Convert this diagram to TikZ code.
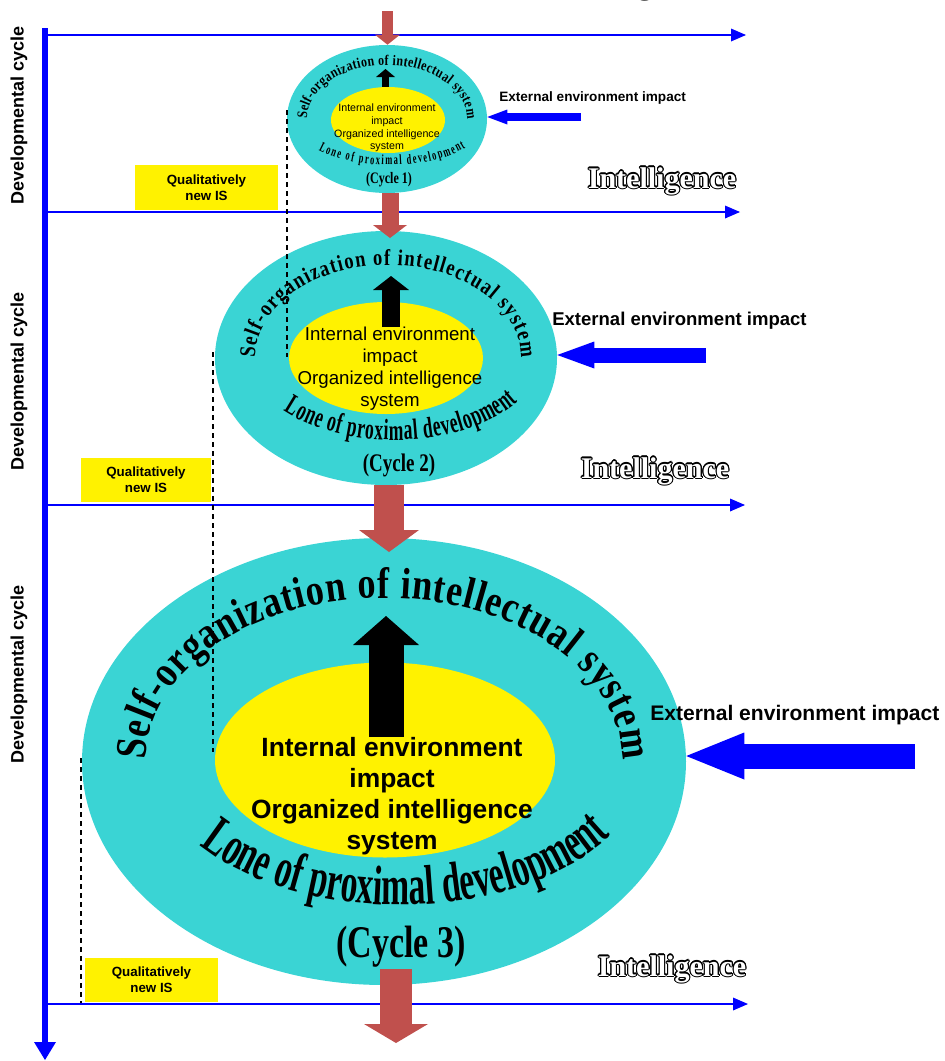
\documentclass[tikz,border=0pt]{standalone}
\usepackage{fontspec}
\setmainfont{Liberation Serif}
\setsansfont{Liberation Sans}
\newfontfamily\toparc{Liberation Serif}[FakeStretch=0.82]
\newfontfamily\lowarc{Liberation Serif}[FakeStretch=0.6]
\newfontfamily\cyclefont{Liberation Serif}[FakeStretch=0.75]
\usepackage{contour}
\contourlength{0.8pt}
\usetikzlibrary{shapes.geometric, arrows.meta, decorations.text, calc}
\definecolor{ringcyan}{RGB}{58,212,212}
\definecolor{arrowred}{RGB}{192,80,77}

\begin{document}
\begin{tikzpicture}[x=0.75pt, y=-0.75pt,
  ring/.style={ellipse, fill=ringcyan, inner sep=0pt},
  yolk/.style={ellipse, fill=yellow, inner sep=0pt},
  inner/.style={align=center, inner sep=0pt},
  devlabel/.style={rotate=90, font=\sffamily\bfseries\fontsize{13.5}{16}\selectfont},
  qbox/.style={fill=yellow, align=center, inner sep=0pt, font=\sffamily\bfseries\fontsize{10}{12}\selectfont},
  intel/.style={anchor=base, text=white, inner sep=0pt, font=\bfseries\fontsize{22.5}{22.5}\selectfont},
  extlabel/.style={anchor=base west, inner sep=0pt},
  blueaxis/.style={draw=blue, line width=1.9pt, -{Triangle[width=9.75pt, length=11.25pt, line width=0pt]}},
  stair/.style={draw=black, line width=0.9pt, dash pattern=on 3.75pt off 3pt},
  redblock/.style n args={3}{draw=arrowred, line width=#1, -{Triangle[width=#2, length=#3, line width=0pt]}},
  blackblock/.style n args={3}{draw=black, line width=#1, -{Triangle[width=#2, length=#3, line width=0pt]}},
  blueblock/.style n args={3}{draw=blue, line width=#1, -{Triangle[width=#2, length=#3, line width=0pt]}},
  toptext/.style={decorate, decoration={text along path, text align={fit to path},
    text={|\toparc\bfseries\fontsize{#1}{#1}\selectfont|Self-organization of intellectual system}}},
  lowtext/.style={decorate, decoration={text along path, text align={fit to path},
    text={|\lowarc\bfseries\fontsize{#1}{#1}\selectfont|Lone of proximal development}}}
]
\useasboundingbox (0,0) rectangle (945,1061);

% cycle 1
\node[ring, minimum width=150pt, minimum height=111pt] (ring1) at (387,119) {};
\node[yolk, minimum width=85.5pt, minimum height=49.5pt] (yolk1) at (388,120) {};
\node[inner, font=\sffamily\fontsize{8}{9.4}\selectfont] (txt1) at (387,128) {Internal environment\\impact\\Organized intelligence\\system};
\coordinate (up1) at (385.5,69);
\draw[blackblock={5.25pt}{14.25pt}{6pt}] (yolk1.north -| up1) -- (up1);
\path[toptext=11] (307,119) arc[start angle=180, end angle=360, x radius=80, y radius=54];
\path[lowtext=10.5] ($(390,120)+(138:96 and 45)$) arc[start angle=138, end angle=38, x radius=96, y radius=45];
\node[font=\cyclefont\bfseries\fontsize{12}{12}\selectfont] (cyc1) at (389,180) {(Cycle 1)};

% cycle 2
\node[ring, minimum width=256.5pt, minimum height=190.5pt] (ring2) at (386,358) {};
\node[yolk, minimum width=145.5pt, minimum height=84pt] (yolk2) at (386,358) {};
\node[inner, font=\sffamily\fontsize{14}{16.5}\selectfont] (txt2) at (390,369) {Internal environment\\impact\\Organized intelligence\\system};
\coordinate (up2) at (391,276);
\draw[blackblock={13.5pt}{27pt}{10.5pt}] (txt2.north -| up2) -- (up2);
\path[toptext=17] (255,358) arc[start angle=180, end angle=360, x radius=133, y radius=93];
\path[lowtext=22] ($(395,358)+(140:145 and 82)$) arc[start angle=140, end angle=32, x radius=145, y radius=82];
\node[font=\cyclefont\bfseries\fontsize{19}{19}\selectfont] (cyc2) at (399,465) {(Cycle 2)};

% cycle 3
\node[ring, minimum width=453pt, minimum height=335.25pt] (ring3) at (384,761.5) {};
\node[yolk, minimum width=255pt, minimum height=146.25pt] (yolk3) at (385,760) {};
\node[inner, font=\sffamily\bfseries\fontsize{19.8}{23.25}\selectfont] (txt3) at (392,796) {Internal environment\\impact\\Organized intelligence\\system};
\coordinate (up3) at (386,616);
\draw[blackblock={26.25pt}{49.5pt}{21.75pt}] (txt3.north -| up3) -- (up3);
\path[toptext=33] (146,760) arc[start angle=180, end angle=360, x radius=238, y radius=162];
\path[lowtext=42] ($(400,760)+(144:247 and 145)$) arc[start angle=144, end angle=32, x radius=247, y radius=145];
\node[font=\cyclefont\bfseries\fontsize{34}{34}\selectfont] (cyc3) at (401,947) {(Cycle 3)};

% axes
\draw[blueaxis, line width=4pt, -{Triangle[width=16.5pt, length=13.5pt, line width=0pt]}] (45,28) -- (45,1060);
\foreach \y/\e in {35/746, 212/740, 505/745, 1004/748}
  \draw[blueaxis] (45,\y) -- (\e,\y);
\node[devlabel] (dev1) at (19,115) {Developmental cycle};
\node[devlabel] (dev2) at (19,381) {Developmental cycle};
\node[devlabel] (dev3) at (19,674) {Developmental cycle};

% red arrows between cycles
\coordinate (top0) at (387.5,11);
\coordinate (tip1) at (390,238);
\coordinate (tip2) at (389,552);
\coordinate (tip3) at (396,1043);
\draw[redblock={8.25pt}{18.75pt}{7.5pt}] (top0) -- (top0 |- ring1.north);
\draw[redblock={12.75pt}{25.5pt}{9.75pt}] (ring1.south -| tip1) -- (tip1);
\draw[redblock={22.5pt}{45pt}{16.5pt}] (ring2.south -| tip2) -- (tip2);
\draw[redblock={24pt}{48pt}{14.25pt}] ([yshift=12pt]ring3.south -| tip3) -- (tip3);

% external impact
\coordinate (ext1) at (581,117);
\coordinate (ext2) at (706,355);
\coordinate (ext3) at (915,756);
\draw[blueblock={6pt}{11.25pt}{15pt}] (ext1) -- (ext1 -| ring1.east);
\draw[blueblock={11.25pt}{20.25pt}{27.75pt}] (ext2) -- (ext2 -| ring2.east);
\draw[blueblock={18.75pt}{35.25pt}{43.5pt}] (ext3) -- (ext3 -| ring3.east);
\node[extlabel, font=\sffamily\bfseries\fontsize{10.2}{12}\selectfont] (extlbl1) at (499,101) {External environment impact};
\node[extlabel, font=\sffamily\bfseries\fontsize{13.9}{16}\selectfont] (extlbl2) at (552,325) {External environment impact};
\node[extlabel, font=\sffamily\bfseries\fontsize{15.8}{18}\selectfont] (extlbl3) at (650,720) {External environment impact};

% qualitatively new IS
\node[qbox, minimum width=107.25pt, minimum height=33.75pt] (new1) at (206.5,187.5) {Qualitatively\\new IS};
\node[qbox, minimum width=97.5pt, minimum height=33pt] (new2) at (146,480) {Qualitatively\\new IS};
\node[qbox, minimum width=99.75pt, minimum height=33pt] (new3) at (151.5,980) {Qualitatively\\new IS};

% intelligence
\node[intel] (intel0) at (635,-7) {\contour{black}{Intelligence}};
\node[intel] (intel1) at (662,188) {\contour{black}{Intelligence}};
\node[intel] (intel2) at (655,478) {\contour{black}{Intelligence}};
\node[intel] (intel3) at (672,976) {\contour{black}{Intelligence}};

% steps
\draw[stair] (287,110) -- (287,357);
\draw[stair] (213,352) -- (213,752);
\draw[stair] (81,758) -- (81,1003);
\end{tikzpicture}
\end{document}
